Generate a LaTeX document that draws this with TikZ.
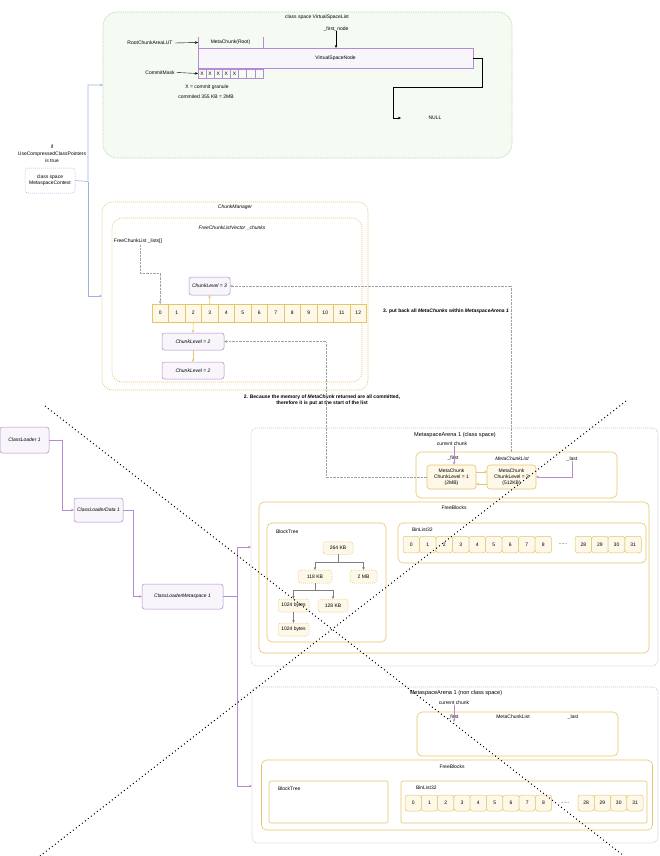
\documentclass[tikz,border=0pt]{standalone}
\usepackage{fontspec}
\setmainfont{Liberation Sans}
\usetikzlibrary{arrows.meta}
\definecolor{gline}{HTML}{ABD9A4}
\definecolor{gfill}{HTML}{F5FBF3}
\definecolor{pline}{HTML}{B48CD2}
\definecolor{pfill}{HTML}{F8F5FB}
\definecolor{yline}{HTML}{E6C46C}
\definecolor{yfill}{HTML}{FEF8E8}
\definecolor{bline}{HTML}{9EB2E2}
\definecolor{aline}{HTML}{C9BFD9}
\definecolor{dline}{HTML}{A0A0A0}
\begin{document}
\begin{tikzpicture}[x=1pt,y=-1pt,
  every node/.style={font=\fontsize{5}{6}\selectfont, inner sep=0pt, outer sep=0pt},
  bigtitle/.style={font=\fontsize{5.6}{6.5}\selectfont},
  wh/.style 2 args={minimum width=#1pt, minimum height=#2pt},
  greenarea/.style={draw=gline, line width=0.6pt, dash pattern=on 1.2pt off 1pt, fill=gfill, rounded corners=14pt},
  ymgr/.style={draw=yline, line width=0.6pt, dash pattern=on 1pt off 1pt, rounded corners=10pt},
  parea/.style={draw=aline, line width=0.6pt, dash pattern=on 1pt off 1pt, rounded corners=6pt},
  ybox/.style={draw=yline, line width=0.6pt, rounded corners=5pt},
  ysq/.style={draw=yline, line width=0.6pt, rounded corners=2pt},
  pbox/.style={draw=pline, line width=0.5pt, fill=pfill, rounded corners=2.5pt},
  ccell/.style={draw=yline, line width=0.5pt, fill=yfill},
  bcell/.style={draw=yline, line width=0.5pt, fill=yfill, rounded corners=2.5pt},
  mcell/.style={draw=pline, line width=0.4pt},
  tnode/.style={draw=yline, line width=0.5pt, dash pattern=on 1pt off 1pt, fill=yfill, rounded corners=3pt},
  bbox/.style={draw=bline, line width=0.5pt, dash pattern=on 1pt off 1pt, rounded corners=3pt},
  ymc/.style={draw=yline, line width=0.6pt, fill=yfill, rounded corners=3pt, align=center},
  tip/.style={-{Stealth[length=3pt,width=2.6pt]}},
  karr/.style={tip, draw=black, line width=0.4pt},
  barr/.style={tip, draw=bline, line width=0.6pt},
  parr/.style={tip, draw=pline, line width=0.6pt},
  yarr/.style={tip, draw=yline, line width=0.6pt},
  tarr/.style={tip, draw=gray, line width=0.6pt},
  dotarr/.style={tip, draw=dline, line width=0.5pt, dash pattern=on 0.6pt off 0.8pt},
  diag/.style={draw=black, line width=1pt, dash pattern=on 1pt off 2.8pt}
]
\useasboundingbox (0,0) rectangle (660,856);

% ---------- top: VirtualSpaceList ----------
\node[greenarea, wh={409}{146}] (vsl) at (307.5,85) {};
\node (vsltitle) at (317,17.5) {class space VirtualSpaceList};
\node (firstnode) at (336,29) {\_first\_node};
\node (root) [wh={65}{11}] at (230.5,42.5) {MetaChunk(Root)};
\draw[draw=pline, line width=0.5pt] (root.north west) -- (root.south west);
\draw[draw=pline, line width=0.5pt] (root.north east) -- (root.south east);
\node[pbox, rounded corners=0pt, wh={275}{20}] (vsn) at (335.5,58) {VirtualSpaceNode};
\node (lut) at (150,43) {RootChunkAreaLUT};
\node (cmask) at (160,72.5) {CommitMask};
\foreach \i in {0,...,7} {
  \node[mcell, wh={8.1}{9}] (m\i) at ({198+4.05+8.1*\i},73.5) {};
}
\foreach \i in {0,...,4} { \node at (m\i) {X}; }
\node (granule) at (207,87) {X = commit granule};
\node (commited) at (206,97) {commited 355 KB = 2MB};
\node (null) at (435,118) {NULL};
\coordinate (nullin) at (401,118);
\draw[karr] (firstnode.south) -- (vsn.north -| firstnode.south);
\draw[karr] ([xshift=2pt]lut.east) -- (root.west);
\draw[karr] ([xshift=2pt]cmask.east) -- (m0.west);
\draw[karr] (vsn.east) -- (482,58) -- (482,87) -- (393,87) -- (393,118) -- (nullin);

% ---------- left: MetaspaceContext ----------
\node[align=center] (iflbl) at (52,153.5) {if\\[1pt]UseCompressedClassPointers\\[1pt]is true};
\node[bbox, wh={50}{25}, align=center] (ctx) at (50,180.5) {class space\\MetaspaceContext};

% ---------- ChunkManager ----------
\node[ymgr, wh={266}{188}] (cm) at (235,296) {};
\node[ymgr, wh={250}{164}] (fclv) at (237,300) {};
\node (cmtitle) at (235,207.5) {\itshape ChunkManager};
\node (fcltitle) at (232,228) {\itshape FreeChunkListVector \_chunks};
\node (lists) at (138,241) {FreeChunkList \_lists[]};
\node[pbox, wh={41}{18}] (cl3) at (209.5,286) {\itshape ChunkLevel = 3};
\foreach \i in {0,...,12} {
  \node[ccell, wh={16.5}{18}] (c\i) at ({152+8.25+16.5*\i},313) {\i};
}
\node[pbox, wh={62}{17}] (cl2a) at (193,341.5) {\itshape ChunkLevel = 2};
\node[pbox, wh={62}{17}] (cl2b) at (193,370.5) {\itshape ChunkLevel = 2};
\coordinate (lstart) at (140,245);
\draw[dotarr] (lstart) -- (140,273) -- (c0.north |- 0,273) -- (c0.north);
\draw[yarr] (c3.north) -- (cl3.south);
\draw[yarr] (c2.south) -- (cl2a.north);
\draw[yarr] (cl2a.south) -- (cl2b.north);
\draw[barr] (ctx.east) -- (88,181.5) |- (vsl.west);
\draw[barr] (88,181.5) |- (cm.west);

\node (note3) at (446,311) {\bfseries 3. put back all \itshape MetaChunks \upshape within \itshape MetaspaceArena 1};
\node[align=center] (note2) at (322,400) {\bfseries 2. Because the memory of \itshape MetaChunk \upshape returned are all committed,\\\bfseries therefore it is put at the start of the list};

% ---------- ClassLoader chain ----------
\node[pbox, wh={49}{26}] (cl) at (24.5,440) {\itshape ClassLoader 1};
\node[pbox, wh={49}{24}] (cld) at (98.5,510) {\itshape ClassLoaderData 1};
\node[pbox, wh={81}{25}] (clm) at (182.5,596.5) {\itshape ClassLoaderMetaspace 1};
\draw[parr] (cl.east) -- (62,440) |- (cld.west);
\draw[parr] (cld.east) -- (133,510) |- (clm.west);

% ---------- MetaspaceArena 1 (class space) ----------
\node[parea, wh={407}{238}] (ar1) at (454.5,547) {};
\node[bigtitle] (ar1title) at (455,435) {MetaspaceArena 1 (class space)};
\node (cur1) at (452,444) {current chunk};
\node[ybox, wh={201}{46}] (mcl1) at (516.5,475) {};
\node (first1) at (453,458.5) {\_first};
\node (mcltitle1) at (512,459) {\itshape MetaChunkList};
\node (last1) at (572,459) {\_last};
\node[ymc, wh={49}{24}] (mc1) at (451.5,477) {MetaChunk\\ChunkLevel = 1\\(2MB)};
\node[ymc, wh={49}{24}] (mc2) at (511.5,477) {MetaChunk\\ChunkLevel = 3\\(512KB)};
\draw[parr] (cur1.south -| 454,0) -- (454,464.7);
\draw[yarr] ([yshift=5pt]mc1.east) -- ([yshift=5pt]mc2.west);
\draw[yarr] ([yshift=-7pt]mc2.west) -- ([yshift=-7pt]mc1.east);
\draw[parr] (last1.south) |- (mc2.east);
\draw[dotarr] (mc2.north |- mcl1.north) |- (cl3.east);
\draw[dotarr] (mc1.west) -- (326,477) |- (cl2a.east);

\node[ybox, wh={390}{151}] (fb1) at (454,577.5) {};
\node (fb1title) at (454,508) {FreeBlocks};
\node[ybox, wh={119}{119}] (bt1) at (326.5,582.5) {};
\node[anchor=west] (bt1title) at (276,532) {BlockTree};
\node[ybox, wh={248}{40}] (bl1) at (522,543) {};
\node[anchor=west] (bl1title) at (412,529.5) {BinList32};
\foreach \i in {0,...,8} {
  \node[bcell, wh={16.5}{16.5}] (b\i) at ({403+8.25+16.5*\i},544.5) {\i};
}
\node (dots1) at (563,544.5) {......};
\foreach \i in {28,...,31} {
  \node[bcell, wh={16.6}{16.5}] (b\i) at ({575+8.3+16.6*(\i-28)},544.5) {\i};
}
\node[tnode, wh={30}{12.5}] (t264) at (338,548) {264 KB};
\node[tnode, wh={34}{13}] (t118) at (315,576.5) {118 KB};
\node[tnode, wh={27}{13}] (t2mb) at (363.5,576.5) {2 MB};
\node[tnode, wh={31}{13}] (t1024) at (293.5,605.5) {1024 bytes};
\node[tnode, wh={30}{13}] (t128) at (333,605.5) {128 KB};
\node[tnode, wh={31}{13}] (t1024b) at (293.5,629.5) {1024 bytes};
\draw[tarr] (t264.south) -- ++(0,8) -| (t118.north);
\draw[tarr] (t264.south) -- ++(0,8) -| (t2mb.north);
\draw[tarr] (t118.south) -- ++(0,7) -| (t1024.north);
\draw[tarr] (t118.south) -- ++(0,7) -| (t128.north);
\draw[tarr] (t1024.south) -- (t1024b.north);

% ---------- MetaspaceArena 1 (non class space) ----------
\node[parea, wh={406}{156}] (ar2) at (455,765) {};
\node[bigtitle] (ar2title) at (456,693) {MetaspaceArena 1 (non class space)};
\node (cur2) at (454,703) {current chunk};
\node[ybox, wh={201}{44}] (mcl2) at (517.5,734) {};
\node (first2) at (453,717) {\_first};
\node (mcltitle2) at (513,717) {MetaChunkList};
\node (last2) at (573,717) {\_last};
\coordinate (cur2end) at (454,722);
\draw[parr] (cur2.south -| cur2end) -- (cur2end);

\node[ybox, wh={391}{70}] (fb2) at (457,795) {};
\node (fb2title) at (452,767) {FreeBlocks};
\node[ysq, wh={119}{42}] (bt2) at (328.5,802) {};
\node[anchor=west] (bt2title) at (278,789) {BlockTree};
\node[ysq, wh={246}{42}] (bl2) at (524,802) {};
\node[anchor=west] (bl2title) at (416,788) {BinList32};
\foreach \i in {0,...,8} {
  \node[bcell, wh={16.3}{16}] (n\i) at ({405+8.15+16.3*\i},803) {\i};
}
\node (dots2) at (565,803) {......};
\foreach \i in {28,...,31} {
  \node[bcell, wh={16.3}{16}] (n\i) at ({578+8.15+16.3*(\i-28)},803) {\i};
}

% arena links from ClassLoaderMetaspace
\draw[parr] (clm.east) -- (237,596.5) |- (ar1.west);
\draw[parr] (237,596.5) |- ([yshift=-21pt]ar2.west);

% ---------- diagonal dotted lines ----------
\coordinate (d1a) at (45,406);
\coordinate (d1b) at (624,856);
\coordinate (d2a) at (626,401);
\coordinate (d2b) at (40,856);
\draw[diag] (d1a) -- (d1b);
\draw[diag] (d2a) -- (d2b);
\end{tikzpicture}
\end{document}
